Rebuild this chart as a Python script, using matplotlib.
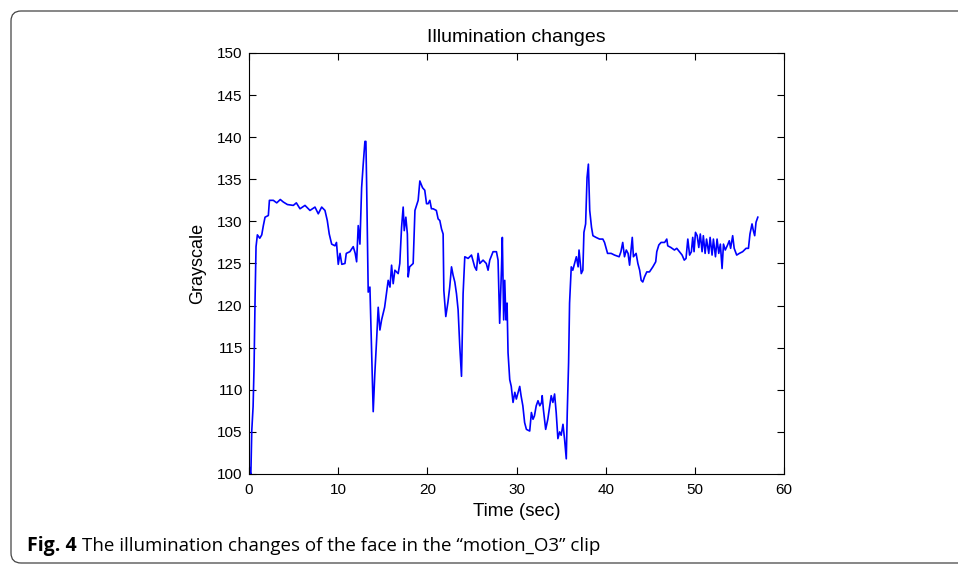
import matplotlib.pyplot as plt
from matplotlib.patches import FancyBboxPatch

time_sec = [
    0.0, 0.1, 0.2, 0.3, 0.45, 0.56, 0.67, 0.78, 0.93, 1.2, 1.42, 1.6, 1.79, 2.16, 2.28,
    2.72, 3.1, 3.5, 3.84, 4.3, 4.96, 5.3, 5.71, 6.27, 6.83, 7.39, 7.76, 8.14, 8.51,
    8.77, 8.99, 9.26, 9.63, 9.8, 10.0, 10.2, 10.4, 10.75, 10.9, 11.3, 11.68, 11.9,
    12.06, 12.24, 12.43, 12.62, 12.8, 12.99, 13.1, 13.18, 13.36, 13.55, 13.74, 13.92,
    14.1, 14.3, 14.48, 14.67, 14.86, 15.04, 15.2, 15.42, 15.6, 15.8, 15.98, 16.16,
    16.35, 16.72, 16.9, 17.1, 17.28, 17.4, 17.58, 17.75, 17.84, 18.0, 18.4, 18.6,
    18.96, 19.15, 19.45, 19.7, 19.9, 20.08, 20.27, 20.45, 20.64, 21.0, 21.2, 21.39,
    21.58, 21.76, 21.84, 22.06, 22.3, 22.5, 22.7, 22.88, 23.07, 23.26, 23.44, 23.63,
    23.82, 24.0, 24.19, 24.56, 24.94, 25.3, 25.5, 25.68, 25.87, 26.24, 26.6, 26.8,
    26.99, 27.36, 27.74, 27.92, 28.1, 28.3, 28.4, 28.55, 28.67, 28.8, 28.93, 29.04,
    29.23, 29.4, 29.6, 29.8, 29.97, 30.35, 30.5, 30.7, 30.9, 31.1, 31.47, 31.66,
    31.84, 32.0, 32.2, 32.4, 32.6, 32.8, 32.87, 33.0, 33.26, 33.5, 33.88, 34.07,
    34.26, 34.44, 34.63, 34.83, 35.0, 35.2, 35.39, 35.57, 35.68, 35.83, 35.94, 36.13,
    36.3, 36.5, 36.7, 36.9, 37.0, 37.15, 37.25, 37.43, 37.55, 37.74, 37.9, 38.05,
    38.2, 38.4, 38.56, 38.9, 39.3, 39.67, 39.86, 40.05, 40.2, 40.6, 40.98, 41.5,
    41.7, 41.9, 42.1, 42.3, 42.5, 42.67, 42.86, 42.97, 43.1, 43.4, 43.6, 43.8,
    43.97, 44.15, 44.34, 44.6, 44.9, 45.28, 45.6, 45.72, 45.95, 46.2, 46.6, 46.84,
    46.95, 47.3, 47.7, 47.96, 48.26, 48.56, 48.8, 49.0, 49.2, 49.4, 49.6, 49.75,
    49.9, 50.06, 50.25, 50.43, 50.6, 50.8, 50.94, 51.14, 51.3, 51.55, 51.7, 51.92,
    52.07, 52.3, 52.48, 52.67, 52.85, 53.04, 53.2, 53.4, 53.66, 53.85, 54.0, 54.23,
    54.4, 54.68, 54.98, 55.35, 55.73, 56.0, 56.17, 56.4, 56.55, 56.7, 56.85, 57.05,
]
grayscale = [
    101.0, 100.2, 100.0, 105.1, 108.0, 112.8, 120.7, 127.0, 128.4, 128.0, 128.4, 129.5, 130.5, 130.7, 132.5,
    132.5, 132.2, 132.6, 132.3, 132.0, 131.9, 132.2, 131.5, 131.9, 131.3, 131.7, 130.9, 131.7, 131.3,
    130.1, 128.5, 127.3, 127.1, 127.5, 124.9, 126.2, 124.9, 125.0, 126.2, 126.4, 127.0, 126.2,
    125.2, 129.5, 127.3, 134.0, 136.8, 139.5, 139.5, 134.6, 121.6, 122.2, 114.7, 107.4,
    111.9, 115.9, 119.8, 117.1, 118.3, 119.1, 119.8, 121.6, 123.0, 122.2, 124.8, 122.6,
    124.2, 123.8, 125.0, 129.3, 131.7, 128.9, 130.5, 128.5, 123.4, 124.6, 125.0, 131.3,
    132.5, 134.8, 134.0, 133.7, 132.1, 132.1, 132.5, 131.5, 131.5, 131.3, 130.3, 130.1,
    129.1, 128.5, 121.8, 118.7, 120.4, 122.2, 124.6, 123.6, 122.8, 121.4, 119.5, 115.1,
    111.6, 121.4, 125.8, 125.6, 126.0, 124.6, 124.2, 126.2, 125.0, 125.4, 125.0, 124.2,
    125.4, 126.4, 126.4, 125.4, 117.9, 124.2, 128.1, 118.3, 123.0, 118.3, 120.3, 114.4,
    111.2, 110.4, 108.5, 109.7, 108.9, 110.4, 109.3, 108.1, 106.1, 105.3, 105.1, 107.3,
    106.5, 106.9, 108.1, 108.7, 108.1, 108.5, 109.3, 107.7, 105.3, 106.5, 109.3, 108.5,
    109.5, 107.3, 104.2, 105.0, 104.6, 105.9, 104.0, 101.8, 107.3, 113.2, 120.3, 124.6,
    124.2, 125.0, 125.8, 124.6, 126.6, 125.0, 123.8, 124.2, 128.7, 129.7, 135.2, 136.8,
    131.3, 129.3, 128.3, 128.1, 127.9, 127.9, 127.5, 126.8, 126.2, 126.2, 126.0, 125.8,
    126.4, 127.5, 125.8, 126.6, 126.2, 124.8, 126.9, 128.1, 125.8, 126.2, 125.0, 124.2,
    123.0, 122.8, 123.4, 124.0, 124.0, 124.6, 125.2, 126.4, 127.2, 127.5, 127.5, 127.9,
    127.1, 126.9, 126.6, 126.8, 126.4, 126.0, 125.4, 125.6, 127.9, 126.0, 126.4, 128.1,
    126.4, 128.7, 128.3, 126.9, 128.5, 126.4, 128.3, 126.2, 127.9, 126.2, 128.1, 126.0,
    127.9, 125.8, 127.9, 126.2, 127.3, 124.4, 127.3, 126.6, 127.2, 127.7, 126.8, 128.3,
    126.8, 126.0, 126.2, 126.4, 126.8, 126.8, 128.5, 129.7, 128.9, 128.3, 129.9, 130.5,
]

x_ticks = [0, 10, 20, 30, 40, 50, 60]
y_ticks = [100, 105, 110, 115, 120, 125, 130, 135, 140, 145, 150]

plt.rcParams['font.family'] = ['Liberation Sans', 'DejaVu Sans']

fig = plt.figure(figsize=(9.58, 5.65), dpi=100)

# rounded frame around the figure (inches, open to the right)
frame = FancyBboxPatch((0.11, 0.02), 10.0, 5.52, boxstyle="round,pad=0,rounding_size=0.1",
                       transform=fig.dpi_scale_trans, fill=False, edgecolor='#444444',
                       linewidth=0.9)
fig.patches.append(frame)

ax = fig.add_axes([0.26, 0.1611, 0.5585, 0.7451])
ax.plot(time_sec, grayscale, color='#0000ff', linewidth=1.2)
ax.set_xlim(0, 60)
ax.set_ylim(100, 150)
ax.set_xticks(x_ticks)
ax.set_yticks(y_ticks)
ax.tick_params(direction='in', top=True, right=True, length=5, labelsize=11, width=0.8)
ax.tick_params(axis='x', pad=6.5)
ax.tick_params(axis='y', pad=4.5)
for s in ax.spines.values():
    s.set_linewidth(0.8)
ax.set_title("Illumination changes", fontsize=14, pad=8)
ax.set_xlabel("Time (sec)", fontsize=13.5, labelpad=4)
ax.set_ylabel("Grayscale", fontsize=13, labelpad=8)

# caption
fig.text(0.028, 0.025, "Fig. 4", fontsize=14, fontweight='bold', family=['Open Sans', 'DejaVu Sans'])
fig.text(0.0855, 0.025, "The illumination changes of the face in the \u201cmotion_O3\u201d clip",
         fontsize=13.5, family=['Open Sans', 'DejaVu Sans'])

fig.savefig("out.png", dpi=100)
